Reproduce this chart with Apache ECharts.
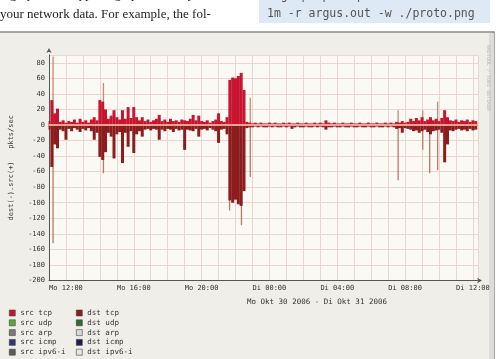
<!DOCTYPE html>
<html><head><meta charset="utf-8">
<script src="https://cdn.jsdelivr.net/npm/echarts@6/dist/echarts.min.js"></script>
<style>html,body{margin:0;padding:0;background:#fff;}#c{width:502px;height:359px;}</style>
</head><body><div id="c"></div>
<script>
// sample grid: 10-minute samples starting Mo 11:00 (hours since Mo 00:00)
const startHour = 11;
const stepHour = 1 / 6;
const srcTcp = [
 5,32,15,21,4,6,3,5,4,7,
 3,8,4,6,3,7,10,6,32,30,
 20,8,12,19,10,7,19,8,23,9,
 23,10,6,10,5,7,4,6,8,13,
 5,7,4,8,5,6,4,7,6,5,
 8,13,6,12,5,4,6,3,5,7,
 15,5,4,10,58,61,60,63,67,45,
 4,3,2,3,2,3,2,2,3,2,
 3,2,2,3,2,3,2,2,3,2,
 2,3,2,2,3,2,3,2,6,3,
 2,3,2,2,3,2,2,3,2,2,
 3,2,2,3,2,2,3,2,2,3,
 2,3,2,4,3,5,3,4,8,5,
 9,6,10,5,7,10,6,8,5,9,
 19,10,6,5,7,4,6,5,7,4,
 6,5];
const dstTcp = [
 -6,-54,-25,-30,-6,-8,-19,-5,-8,-4,
 -6,-9,-5,-7,-4,-8,-19,-10,-41,-45,
 -35,-10,-15,-43,-12,-9,-49,-10,-28,-8,
 -36,-12,-8,-15,-6,-5,-7,-5,-6,-19,
 -6,-8,-5,-6,-9,-5,-7,-6,-32,-6,
 -7,-8,-5,-15,-6,-5,-7,-4,-6,-8,
 -23,-6,-5,-12,-97,-100,-96,-102,-104,-85,
 -4,-3,-3,-2,-3,-2,-3,-3,-2,-3,
 -2,-3,-3,-2,-3,-2,-5,-3,-2,-3,
 -3,-2,-3,-3,-2,-3,-2,-3,-6,-3,
 -3,-2,-3,-3,-2,-3,-3,-2,-3,-3,
 -2,-3,-3,-2,-3,-3,-2,-3,-3,-2,
 -3,-2,-3,-5,-4,-10,-4,-5,-6,-8,
 -7,-10,-8,-6,-9,-12,-8,-7,-6,-10,
 -48,-25,-7,-8,-6,-5,-7,-6,-8,-5,
 -7,-6];
// short single-sample peaks (hour, value)
const srcPeakHours = [11.29, 14.26, 22.92, 31.64, 33.09, 33.50, 33.97];
const srcPeakVals  = [88, 54, 35, 19, 19, 10, 30];
const dstPeakHours = [11.29, 14.26, 21.70, 22.40, 22.92, 31.64, 33.09, 33.50, 33.97];
const dstPeakVals  = [-152, -62, -110, -129, -67, -71, -32, -62, -58];

const tickHours  = [12, 16, 20, 24, 28, 32, 36];
const tickLabels = ['Mo 12:00','Mo 16:00','Mo 20:00','Di 00:00','Di 04:00','Di 08:00','Di 12:00'];
const srcNames = ['src tcp','src udp','src arp','src icmp','src ipv6-i'];
const dstNames = ['dst tcp','dst udp','dst arp','dst icmp','dst ipv6-i'];
const srcColors = ['#c8142e','#58a83a','#7a7a7a','#34347e','#5a5a5a'];
const dstColors = ['#8c1c1e','#2f6b30','#d8d8d8','#1e1e4c','#e4e4e4'];

const mono = 'DejaVu Sans Mono';
const toPairs = (vals) => vals.map((v, i) => [startHour + i * stepHour, v]);
const zip = (h, v) => h.map((x, i) => [x, v[i]]);

const series = [];
series.push({name:'src tcp', type:'bar', barWidth:1.3, barGap:'-100%', data: zip(srcPeakHours, srcPeakVals),
  itemStyle:{color:'#c98a76'}, silent:true, z:2});
series.push({name:'dst tcp', type:'bar', barWidth:1.3, barGap:'-100%', data: zip(dstPeakHours, dstPeakVals),
  itemStyle:{color:'#b87a6a'}, silent:true, z:2});
series.push({name:'src tcp', type:'bar', barWidth:3, barGap:'-100%', data: toPairs(srcTcp),
  itemStyle:{color:srcColors[0]}, silent:true, z:3});
series.push({name:'dst tcp', type:'bar', barWidth:3, barGap:'-100%', data: toPairs(dstTcp),
  itemStyle:{color:dstColors[0]}, silent:true, z:3,
  markLine:{silent:true, symbol:['none','none'], label:{show:false}, data:[{yAxis:0}],
    lineStyle:{color:'#f0a08e', width:1.8, type:'solid'}}});
for (let i = 1; i < 5; i++) {
  series.push({name:srcNames[i], type:'line', data:[], itemStyle:{color:srcColors[i]}});
  series.push({name:dstNames[i], type:'line', data:[], itemStyle:{color:dstColors[i]}});
}
const legendBase = {orient:'vertical', top:309, itemWidth:6, itemHeight:6, itemGap:1.8, icon:'rect', padding:0,
  itemStyle:{borderColor:'#444', borderWidth:0.6},
  textStyle:{fontFamily:mono, fontSize:7.5, lineHeight:8, color:'#333'}};

const chart = echarts.init(document.getElementById('c'), null, {renderer:'canvas'});
chart.setOption({
  animation:false,
  backgroundColor:'#ffffff',
  graphic:[
    {type:'rect', z:-10, shape:{x:-2, y:32, width:496, height:330}, style:{fill:'#efeee9', stroke:'#8a8a8a', lineWidth:1.5}},
    {type:'rect', z:-9, shape:{x:489, y:33, width:5, height:326}, style:{fill:'#dcdcdc'}},
    {type:'text', z:10, left:0, top:-12, style:{text:'ragraph also supports graphical analysis of', font:'13px "Liberation Serif"', fill:'#222'}},
    {type:'text', z:10, left:0, top:8, style:{text:'your network data. For example, the fol-', font:'13px "Liberation Serif"', fill:'#222'}},
    {type:'rect', z:9, shape:{x:259, y:-2, width:231, height:25}, style:{fill:'#dde9f4'}},
    {type:'text', z:10, left:267, top:-10, style:{text:'ragraph pkts proto -M time', font:'11.5px "DejaVu Sans Mono"', fill:'#555'}},
    {type:'text', z:10, left:267, top:8, style:{text:'1m -r argus.out -w ./proto.png', font:'11.5px "DejaVu Sans Mono"', fill:'#555'}},
    {type:'text', z:10, left:247, top:298, style:{text:'Mo Okt 30 2006 - Di Okt 31 2006', font:'7.5px "DejaVu Sans Mono"', fill:'#333', textAlign:'center'}},
    {type:'text', z:10, x:491, y:45, rotation:-Math.PI/2, style:{text:'RRDTOOL / TOBI OETIKER', font:'5px "DejaVu Sans Mono"', fill:'#b8b8b8'}}
  ],
  grid:{left:43, right:24, top:55, bottom:78.5, show:true, backgroundColor:'#fbf9f3', borderWidth:0},
  xAxis:{type:'value', min:startHour, max:36.3, interval:1,
    axisLine:{show:true, onZero:false, lineStyle:{color:'#555', width:1}, symbol:['none','arrow'], symbolSize:[4,5], symbolOffset:[0,4]},
    axisTick:{show:false},
    splitLine:{show:true, lineStyle:{color:'#ead6cf', width:1}},
    axisLabel:{margin:4, fontFamily:mono, fontSize:7, color:'#333',
      formatter:(v)=>{const i = tickHours.indexOf(Math.round(v*1000)/1000); return i>=0 ? tickLabels[i] : '';}}
  },
  yAxis:{type:'value', min:-200, max:90, interval:20,
    name:'dest(-).src(+)   pkts/sec', nameLocation:'middle', nameRotate:90, nameGap:34,
    nameTextStyle:{fontFamily:mono, fontSize:7, color:'#333'},
    axisLine:{show:true, lineStyle:{color:'#555', width:1}, symbol:['none','arrow'], symbolSize:[4,5], symbolOffset:[0,7]},
    axisTick:{show:false},
    splitLine:{show:true, lineStyle:{color:'#ead6cf', width:1}},
    axisLabel:{margin:4, fontFamily:mono, fontSize:7, color:'#333', showMaxLabel:false}
  },
  legend:[
    Object.assign({}, legendBase, {left:9, data: srcNames.map((n,i)=>({name:n, itemStyle:{color:srcColors[i]}}))}),
    Object.assign({}, legendBase, {left:76, data: dstNames.map((n,i)=>({name:n, itemStyle:{color:dstColors[i]}}))})
  ],
  series: series
});
</script>
</body></html>
